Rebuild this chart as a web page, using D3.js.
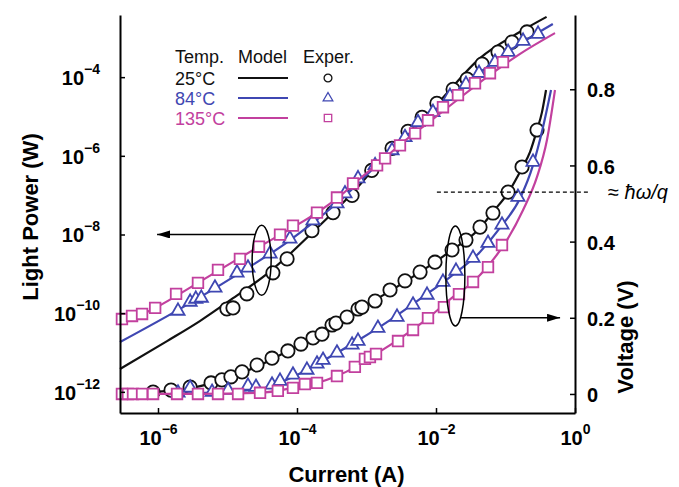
<!DOCTYPE html>
<html>
<head>
<meta charset="utf-8">
<script src="https://cdn.jsdelivr.net/npm/d3@7"></script>
<style>
  body { margin: 0; background: #fff; }
  svg { font-family: "Liberation Sans", Arial, Helvetica, sans-serif; }
</style>
</head>
<body>
<svg width="679" height="487"></svg>
<script>
// ---- data (current in A, light power in W, voltage in V) ----
var currentTicks = [1e-6, 1e-4, 1e-2, 1];
var powerTicks = [1e-12, 1e-10, 1e-8, 1e-6, 1e-4];
var voltageTicks = [0, 0.2, 0.4, 0.6, 0.8];
var temps = ["25°C", "84°C", "135°C"];
var photonVoltage = 0.53; // hbar*omega/q

var powerModel25 = [[2.84e-7, 3.8e-12], [1.35e-6, 1.95e-11], [4.0e-6, 6.3e-11], [1.2e-5, 2.4e-10], [3.7e-5, 1.0e-9],
  [7.9e-5, 3.2e-9], [1.64e-4, 1.1e-8], [5.8e-4, 9.8e-8], [2.3e-3, 1.55e-6], [1.03e-2, 2.05e-5], [4.3e-2, 3.05e-4],
  [0.16, 1.4e-3], [0.39, 3.4e-3]];
var powerModel84 = [[2.84e-7, 1.84e-11], [2.2e-6, 1.36e-10], [1.97e-5, 1.42e-9], [6.7e-5, 5.8e-9], [1.7e-4, 2.0e-8],
  [4.16e-4, 7.3e-8], [8.9e-4, 2.65e-7], [2.4e-3, 1.46e-6], [5.9e-3, 6.7e-6], [1.76e-2, 3.5e-5], [5.4e-2, 1.8e-4],
  [0.16, 6.95e-4], [0.48, 2.25e-3]];
var powerModel135 = [[2.84e-7, 5.3e-11], [9.1e-7, 1.36e-10], [3.76e-6, 5.9e-10], [1.42e-5, 2.4e-9], [6.1e-5, 1.05e-8],
  [1.94e-4, 3.6e-8], [3.9e-4, 8.7e-8], [8.1e-4, 2.65e-7], [1.73e-3, 8.1e-7], [3.35e-3, 2.2e-6], [8.2e-3, 7.55e-6],
  [1.76e-2, 2.17e-5], [5.4e-2, 1.0e-4], [0.16, 3.86e-4], [0.515, 1.32e-3]];

var powerExp25 = [[9.8e-6, 1.28e-10], [1.2e-5, 1.36e-10], [1.9e-5, 3.1e-10], [4.5e-5, 1.06e-9], [7.2e-5, 2.4e-9],
  [1.64e-4, 1.25e-8], [3.3e-4, 3.6e-8], [6.2e-4, 9.8e-8], [1.19e-3, 4.25e-7], [2.33e-3, 1.55e-6], [3.95e-3, 4.2e-6],
  [6.3e-3, 9.5e-6], [1.03e-2, 2.17e-5], [1.76e-2, 4.9e-5], [2.8e-2, 8.9e-5], [4.6e-2, 2.15e-4], [7.8e-2, 4.35e-4],
  [0.124, 7.8e-4], [0.204, 1.41e-3]];
var powerExp84 = [[1.94e-6, 1.14e-10], [2.9e-6, 1.93e-10], [3.5e-6, 2.3e-10], [4.2e-6, 2.44e-10], [6.6e-6, 4.4e-10],
  [1.37e-5, 1.06e-9], [1.97e-5, 1.42e-9], [4.1e-5, 3.24e-9], [7.9e-5, 7.8e-9], [1.7e-4, 2.25e-8], [3.76e-4, 6.1e-8],
  [4.9e-4, 1.1e-7], [7.55e-4, 2.65e-7], [1.33e-3, 5.7e-7], [2.33e-3, 1.37e-6], [3.58e-3, 2.95e-6], [5.5e-3, 7.1e-6],
  [9.05e-3, 1.28e-5], [1.59e-2, 3.27e-5], [2.7e-2, 6.6e-5], [4.16e-2, 1.26e-4], [7.06e-2, 2.41e-4], [0.109, 4.35e-4],
  [0.179, 8.3e-4], [0.294, 1.25e-3]];
var powerExp135 = [[3.03e-7, 7.1e-11], [4.23e-7, 8.5e-11], [5.9e-7, 9.55e-11], [9.1e-7, 1.36e-10], [1.82e-6, 3.1e-10],
  [3.76e-6, 5.9e-10], [7.3e-6, 1.26e-9], [1.51e-5, 2.4e-9], [2.84e-5, 4.9e-9], [5.7e-5, 9.9e-9], [8.75e-5, 1.68e-8],
  [1.94e-4, 3.6e-8], [3.76e-4, 8.7e-8], [6.4e-4, 1.98e-7], [1.42e-3, 5.7e-7], [1.85e-3, 8.6e-7], [3.03e-3, 1.84e-6],
  [5.0e-3, 3.73e-6], [7.67e-3, 8.0e-6], [1.26e-2, 1.72e-5], [2.07e-2, 3.48e-5], [3.64e-2, 7.0e-5], [5.98e-2, 1.26e-4],
  [9.2e-2, 2.41e-4]];

var voltModel25 = [[8.5e-7, 0.005], [3.1e-6, 0.016], [9.2e-6, 0.039], [2.75e-5, 0.073], [7.4e-5, 0.113],
  [2.37e-4, 0.165], [7.3e-4, 0.220], [2.18e-3, 0.270], [6.5e-3, 0.325], [1.7e-2, 0.378], [4.3e-2, 0.436],
  [6.6e-2, 0.478], [0.109, 0.528], [0.173, 0.593], [0.225, 0.635], [0.284, 0.693], [0.335, 0.740], [0.383, 0.798]];
var voltModel84 = [[1.5e-6, 0], [7.8e-6, 0.005], [2.94e-5, 0.013], [8.75e-5, 0.045], [2.37e-4, 0.087],
  [7.3e-4, 0.139], [2.18e-3, 0.194], [6.5e-3, 0.255], [1.59e-2, 0.307], [4.3e-2, 0.373], [8.33e-2, 0.436],
  [0.162, 0.514], [0.249, 0.601], [0.347, 0.701], [0.452, 0.798]];
var voltModel135 = [[2.84e-7, 0], [4.0e-6, 0], [2.94e-5, 0.003], [8.75e-5, 0.016], [1.94e-4, 0.029],
  [3.76e-4, 0.047], [7.3e-4, 0.073], [1.46e-3, 0.108], [2.84e-3, 0.142], [7.67e-3, 0.199], [1.76e-2, 0.255],
  [3.41e-2, 0.294], [5.6e-2, 0.336], [0.105, 0.404], [0.179, 0.483], [0.284, 0.570], [0.395, 0.667], [0.515, 0.798]];

var voltExp25 = [[8.5e-7, 0.005], [1.54e-6, 0.010], [2.9e-6, 0.018], [5.8e-6, 0.029], [8.3e-6, 0.037],
  [1.12e-5, 0.045], [1.62e-5, 0.058], [2.66e-5, 0.076], [4.37e-5, 0.094], [7.4e-5, 0.113], [1.14e-4, 0.131],
  [1.7e-4, 0.147], [2.29e-4, 0.157], [3.19e-4, 0.181], [3.64e-4, 0.186], [5.24e-4, 0.202], [7.55e-4, 0.223],
  [8.6e-4, 0.228], [1.33e-3, 0.244], [2.18e-3, 0.273], [3.58e-3, 0.297], [5.9e-3, 0.320], [9.67e-3, 0.346],
  [1.7e-2, 0.378], [2.7e-2, 0.404], [4.3e-2, 0.438], [6.6e-2, 0.475], [0.109, 0.530], [0.173, 0.596], [0.284, 0.693]];
var voltExp84 = [[1.94e-6, 0.003], [2.9e-6, 0.016], [6.0e-6, 0.005], [1.02e-5, 0.010], [1.97e-5, 0.021],
  [2.57e-5, 0.018], [4.37e-5, 0.024], [5.7e-5, 0.034], [8.75e-5, 0.050], [1.39e-4, 0.063], [1.94e-4, 0.079],
  [2.37e-4, 0.089], [3.76e-4, 0.108], [6.2e-4, 0.129], [7.55e-4, 0.139], [1.46e-3, 0.173], [2.75e-3, 0.202],
  [4.67e-3, 0.234], [7.43e-3, 0.260], [1.26e-2, 0.294], [1.94e-2, 0.323], [3.41e-2, 0.357], [5.6e-2, 0.396],
  [8.9e-2, 0.444], [0.151, 0.517], [0.249, 0.609]];
var voltExp135 = [[3.03e-7, 0], [3.7e-7, 0], [4.37e-7, 0], [5.9e-7, 0], [8.5e-7, 0], [1.88e-6, 0], [3.76e-6, 0],
  [7.3e-6, 0], [1.42e-5, 0], [2.94e-5, 0.003], [5.3e-5, 0.008], [8.75e-5, 0.016], [1.3e-4, 0.026], [1.94e-4, 0.029],
  [3.76e-4, 0.047], [6.8e-4, 0.071], [9.5e-4, 0.092], [1.12e-3, 0.097], [1.37e-3, 0.105], [2.84e-3, 0.139],
  [4.67e-3, 0.168], [7.67e-3, 0.199], [1.3e-2, 0.228], [2.14e-2, 0.262], [3.41e-2, 0.294], [5.6e-2, 0.333],
  [8.9e-2, 0.391]];

// ---- layout ----
var svg = d3.select("svg"),
    margin = {top: 15, right: 104, bottom: 74, left: 120},
    width = +svg.attr("width") - margin.left - margin.right,
    height = +svg.attr("height") - margin.top - margin.bottom,
    g = svg.append("g").attr("transform", "translate(" + margin.left + "," + margin.top + ")");

var xScale = d3.scaleLog().domain([2.84e-7, 1]).range([0, width]),
    yPower = d3.scaleLog().domain([2.9e-13, 3.8e-3]).range([height, 0]),
    yVolt = d3.scaleLinear().domain([-0.05, 0.995]).range([height, 0]);

var series = [
  {temp: temps[0], color: "#111111", shape: d3.symbolCircle, size: 140, legendSize: 48,
   powerModel: powerModel25, powerExp: powerExp25, voltModel: voltModel25, voltExp: voltExp25},
  {temp: temps[1], color: "#3f47b2", shape: d3.symbolTriangle, size: 75, legendSize: 40,
   powerModel: powerModel84, powerExp: powerExp84, voltModel: voltModel84, voltExp: voltExp84},
  {temp: temps[2], color: "#c2409e", shape: d3.symbolSquare, size: 112, legendSize: 55,
   powerModel: powerModel135, powerExp: powerExp135, voltModel: voltModel135, voltExp: voltExp135}
];

var powerLine = d3.line()
    .curve(d3.curveMonotoneX)
    .x(function (d) { return xScale(d[0]); })
    .y(function (d) { return yPower(d[1]); });

var voltLine = d3.line()
    .curve(d3.curveMonotoneX)
    .x(function (d) { return xScale(d[0]); })
    .y(function (d) { return yVolt(d[1]); });

// ---- curves and markers ----
series.forEach(function (s) {
    var sym = d3.symbol().type(s.shape).size(s.size);

    g.append("path").attr("d", powerLine(s.powerModel))
        .attr("fill", "none").attr("stroke", s.color).attr("stroke-width", 2.2);
    g.append("path").attr("d", voltLine(s.voltModel))
        .attr("fill", "none").attr("stroke", s.color).attr("stroke-width", 2.2);

    g.selectAll(null).data(s.powerExp).enter().append("path")
        .attr("transform", function (d) { return "translate(" + xScale(d[0]) + "," + yPower(d[1]) + ")"; })
        .attr("d", sym)
        .attr("fill", "#fff").attr("stroke", s.color).attr("stroke-width", 1.8);
    g.selectAll(null).data(s.voltExp).enter().append("path")
        .attr("transform", function (d) { return "translate(" + xScale(d[0]) + "," + yVolt(d[1]) + ")"; })
        .attr("d", sym)
        .attr("fill", "#fff").attr("stroke", s.color).attr("stroke-width", 1.8);
});

// ---- axes ----
function expLabel(sel) {
    sel.each(function (d) {
        var t = d3.select(this).text(null),
            e = Math.round(Math.log10(d));
        t.append("tspan").text("10");
        t.append("tspan").attr("dy", -11).attr("font-size", 14)
            .text(e < 0 ? "\u2212" + (-e) : e);
    });
}

var gX = g.append("g")
    .attr("transform", "translate(0," + height + ")")
    .call(d3.axisBottom(xScale).tickValues(currentTicks).tickSizeInner(-5).tickSizeOuter(0).tickPadding(18));
var gY = g.append("g")
    .call(d3.axisLeft(yPower).tickValues(powerTicks).tickSizeInner(-5).tickSizeOuter(0).tickPadding(20));
var gV = g.append("g")
    .attr("transform", "translate(" + width + ",0)")
    .call(d3.axisRight(yVolt).tickValues(voltageTicks).tickSizeInner(-5).tickSizeOuter(0).tickPadding(12)
        .tickFormat(function (d) { return d === 0 ? "0" : d3.format(".1f")(d); }));

[gX, gY, gV].forEach(function (a) {
    a.attr("font-family", null).attr("font-size", 20).attr("font-weight", "bold");
    a.select(".domain").attr("stroke-width", 2);
    a.selectAll(".tick line").attr("stroke-width", 1.5);
});
gX.selectAll(".tick text").call(expLabel);
gY.selectAll(".tick text").call(expLabel).attr("dy", "0.36em");
gV.selectAll(".tick text").attr("dy", "0.38em");

svg.append("text")
    .attr("transform", "translate(38," + (margin.top + 202) + ") rotate(-90)")
    .attr("text-anchor", "middle").attr("font-size", 22).attr("font-weight", "bold")
    .text("Light Power (W)");
svg.append("text")
    .attr("x", margin.left + width / 2 - 1).attr("y", 482)
    .attr("text-anchor", "middle").attr("font-size", 22).attr("font-weight", "bold")
    .text("Current (A)");
svg.append("text")
    .attr("transform", "translate(" + (margin.left + width + 58) + "," + (margin.top + 322) + ") rotate(-90)")
    .attr("text-anchor", "middle").attr("font-size", 22).attr("font-weight", "bold")
    .text("Voltage (V)");

// ---- annotations ----
svg.append("defs").append("marker")
    .attr("id", "arrow").attr("viewBox", "0 0 13 8")
    .attr("refX", 13).attr("refY", 4)
    .attr("markerWidth", 13).attr("markerHeight", 8)
    .attr("markerUnits", "userSpaceOnUse").attr("orient", "auto")
    .append("path").attr("d", "M0,0L13,4L0,8Z").attr("fill", "#000");

var lightNote = {current: 3.1e-5, power: 2.2e-9, arrowPower: 1e-8, arrowTo: 9.7e-7},
    voltNote = {current: 1.9e-2, voltage: 0.31, arrowVoltage: 0.2, arrowTo: 0.61};

function noteEllipse(cx, cy, rx, ry, ay, tipX) {
    var dy = ay - cy,
        dx = rx * Math.sqrt(Math.max(0, 1 - (dy / ry) * (dy / ry))),
        startX = tipX < cx ? cx - dx : cx + dx;
    g.append("ellipse").attr("cx", cx).attr("cy", cy).attr("rx", rx).attr("ry", ry)
        .attr("fill", "none").attr("stroke", "#000").attr("stroke-width", 1.5);
    g.append("line").attr("x1", startX).attr("y1", ay).attr("x2", tipX).attr("y2", ay)
        .attr("stroke", "#000").attr("stroke-width", 1.5).attr("marker-end", "url(#arrow)");
}
noteEllipse(xScale(lightNote.current), yPower(lightNote.power), 9.5, 35,
    yPower(lightNote.arrowPower), xScale(lightNote.arrowTo));
noteEllipse(xScale(voltNote.current), yVolt(voltNote.voltage), 9.5, 50,
    yVolt(voltNote.arrowVoltage), xScale(voltNote.arrowTo));

g.append("line")
    .attr("x1", xScale(1.03e-2)).attr("x2", width + 15)
    .attr("y1", yVolt(photonVoltage)).attr("y2", yVolt(photonVoltage))
    .attr("stroke", "#000").attr("stroke-width", 1.2).attr("stroke-dasharray", "4,3");
var hw = g.append("text")
    .attr("x", width + 33).attr("y", yVolt(photonVoltage) + 7)
    .attr("font-size", 20);
hw.append("tspan").text("\u2248 ");
hw.append("tspan").attr("font-style", "italic").text("\u0127\u03c9/q");

// ---- legend ----
var legend = svg.append("g").attr("font-size", 18).attr("fill", "#111");
legend.append("text").attr("x", 175).attr("y", 63).text("Temp.");
legend.append("text").attr("x", 238).attr("y", 63).text("Model");
legend.append("text").attr("x", 303).attr("y", 63).text("Exper.");

var rows = legend.selectAll(".row").data(series).enter().append("g")
    .attr("class", "row")
    .attr("transform", function (d, i) { return "translate(0," + (20 * i) + ")"; });
rows.append("text").attr("x", 175).attr("y", 85)
    .attr("fill", function (d) { return d.color; })
    .text(function (d) { return d.temp; });
rows.append("line").attr("x1", 238).attr("x2", 288).attr("y1", 78).attr("y2", 78)
    .attr("stroke", function (d) { return d.color; }).attr("stroke-width", 2);
rows.append("path")
    .attr("transform", "translate(328,78)")
    .attr("d", function (d) { return d3.symbol().type(d.shape).size(d.legendSize)(); })
    .attr("fill", "#fff")
    .attr("stroke", function (d) { return d.color; }).attr("stroke-width", 1.3);
</script>
</body>
</html>
